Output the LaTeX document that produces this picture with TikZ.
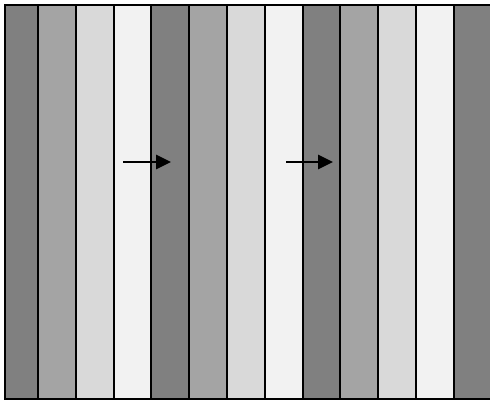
\documentclass[tikz,border=0pt]{standalone}
\usetikzlibrary{arrows.meta}
\definecolor{sA}{RGB}{128,128,128}
\definecolor{sB}{RGB}{164,164,164}
\definecolor{sC}{RGB}{217,217,217}
\definecolor{sD}{RGB}{242,242,242}
\tikzset{
  edge/.style={line width=2pt, draw=black},
  flow/.style={line width=2.8pt, -{Triangle[length=15pt,width=14pt]}}
}
\begin{document}
\begin{tikzpicture}[x=1pt,y=-1pt]
\useasboundingbox (0,0) rectangle (490,401);
\clip (0,0) rectangle (490,401);
% stripes
\foreach \i/\c in {0/sA,1/sB,2/sC,3/sD,4/sA,5/sB,6/sC,7/sD,8/sA,9/sB,10/sC,11/sD,12/sA}{
  \pgfmathsetmacro{\xl}{\i==0 ? 5 : 0.2+37.8*\i}
  \pgfmathsetmacro{\xr}{0.2+37.8*(\i+1)}
  \fill[\c] (\xl,5) rectangle (\xr,399);
}
% dividers
\foreach \i in {1,...,12}{
  \pgfmathsetmacro{\xx}{0.2+37.8*\i}
  \draw[edge] (\xx,5) -- (\xx,399);
}
% frame
\draw[edge] (5,5) rectangle (492,399);
% arrows
\coordinate (a1) at (123,162);
\coordinate (b1) at (171,162);
\coordinate (a2) at (286,162);
\coordinate (b2) at (333,162);
\draw[flow] (a1) -- (b1);
\draw[flow] (a2) -- (b2);
\end{tikzpicture}
\end{document}
